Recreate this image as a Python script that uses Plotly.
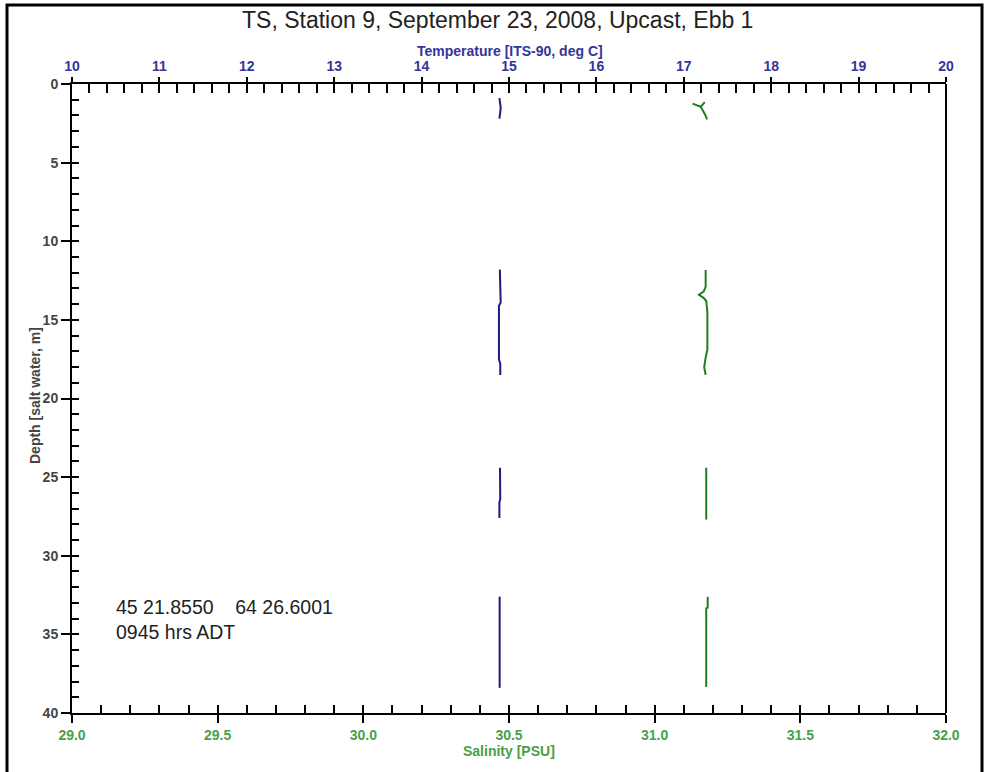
import plotly.graph_objects as go

# ---------------- data ----------------
title_text = "TS, Station 9, September 23, 2008, Upcast, Ebb 1"
note_text = "45 21.8550    64 26.6001<br>0945 hrs ADT"
temp_title = "Temperature [ITS-90, deg C]"
sal_title = "Salinity [PSU]"
depth_title = "Depth [salt water, m]"

# Temperature profile (segments separated by gaps)
temp_depth_1 = [0.9, 1.2, 1.5, 1.8, 2.2]
temp_vals_1 = [14.89, 14.90, 14.905, 14.90, 14.89]
temp_depth_2 = [11.8, 12.9, 13.1, 13.9, 14.1, 17.5, 17.8, 18.5]
temp_vals_2 = [14.895, 14.90, 14.905, 14.905, 14.885, 14.885, 14.90, 14.90]
temp_depth_3 = [24.4, 26.4, 26.6, 27.6]
temp_vals_3 = [14.897, 14.90, 14.89, 14.89]
temp_depth_4 = [32.6, 35.5, 38.4]
temp_vals_4 = [14.893, 14.893, 14.893]

# Salinity profile
sal_depth_1 = [1.15, 1.45, 1.25, 1.45, 1.9, 2.25]
sal_vals_1 = [31.172, 31.158, 31.130, 31.158, 31.172, 31.180]
sal_depth_2 = [11.83, 12.9, 13.2, 13.4, 13.6, 13.8, 14.5, 16.9, 17.4, 18.0, 18.2, 18.5]
sal_vals_2 = [31.175, 31.175, 31.168, 31.152, 31.168, 31.177, 31.181, 31.181,
              31.175, 31.170, 31.172, 31.175]
sal_depth_3 = [24.4, 27.7]
sal_vals_3 = [31.177, 31.177]
sal_depth_4 = [32.6, 33.3, 33.35, 38.35]
sal_vals_4 = [31.182, 31.182, 31.177, 31.177]

temp_range = [10, 20]
sal_range = [29.0, 32.0]
depth_range = [40, 0]


def join(depth_segs, val_segs):
    d, v = [], []
    for ds, vs in zip(depth_segs, val_segs):
        if d:
            d.append(None)
            v.append(None)
        d.extend(ds)
        v.extend(vs)
    return d, v


t_d, t_v = join([temp_depth_1, temp_depth_2, temp_depth_3, temp_depth_4],
                [temp_vals_1, temp_vals_2, temp_vals_3, temp_vals_4])
s_d, s_v = join([sal_depth_1, sal_depth_2, sal_depth_3, sal_depth_4],
                [sal_vals_1, sal_vals_2, sal_vals_3, sal_vals_4])

# ---------------- styling ----------------
FONT = "Arial, Liberation Sans, sans-serif"
NAVY = "#1c1c80"
GREEN = "#1f7f1f"
NAVY_TXT = "#34349a"
GREEN_TXT = "#48a048"
GRAY_TXT = "#444444"

W, H = 987, 772
L, R, T, B = 72, 946, 84, 713

fig = go.Figure()
fig.add_trace(go.Scatter(x=s_v, y=s_d, mode="lines", xaxis="x", yaxis="y",
                         line=dict(color=GREEN, width=2), showlegend=False,
                         connectgaps=False))
fig.add_trace(go.Scatter(x=t_v, y=t_d, mode="lines", xaxis="x2", yaxis="y",
                         line=dict(color=NAVY, width=2), showlegend=False,
                         connectgaps=False))
# dummy traces for tick-overlay axes
for xa, ya in [("x3", "y"), ("x4", "y"), ("x", "y2")]:
    fig.add_trace(go.Scatter(x=[None], y=[None], xaxis=xa, yaxis=ya,
                             showlegend=False, hoverinfo="skip"))

common = dict(showgrid=False, zeroline=False, tickcolor="black", tickwidth=2,
              automargin=False)
line = dict(linecolor="black", linewidth=2, showline=True)

fig.update_layout(
    width=W, height=H,
    margin=dict(l=L, r=W - R, t=T, b=H - B, autoexpand=False),
    paper_bgcolor="white", plot_bgcolor="white",
    font=dict(family=FONT, size=13, color=GRAY_TXT),
    xaxis=dict(range=sal_range, side="bottom", anchor="y", tickmode="linear",
               tick0=29.0, dtick=0.5, tickformat=".1f", ticks="outside", ticklen=8,
               tickfont=dict(color=GREEN_TXT, size=14, family=FONT, weight="bold"),
               **common, **line),
    xaxis2=dict(range=temp_range, side="top", anchor="y", overlaying="x",
                tickmode="linear", tick0=10, dtick=1, ticks="outside", ticklen=5,
                tickfont=dict(color=NAVY_TXT, size=14, family=FONT, weight="bold"),
                **common, **line),
    xaxis3=dict(range=sal_range, side="bottom", anchor="y", overlaying="x",
                tickmode="linear", tick0=29.0, dtick=0.1, ticks="inside", ticklen=8,
                showticklabels=False, showline=False, **common),
    xaxis4=dict(range=temp_range, side="top", anchor="y", overlaying="x",
                tickmode="linear", tick0=10, dtick=0.2, ticks="inside", ticklen=9,
                showticklabels=False, showline=False, **common),
    yaxis=dict(range=depth_range, side="left", anchor="x", tickmode="linear",
               tick0=0, dtick=5, ticks="outside", ticklen=9,
               tickfont=dict(color=GRAY_TXT, size=14, family=FONT, weight="bold"),
               **common, **line),
    yaxis2=dict(range=depth_range, side="left", anchor="x", overlaying="y",
                tickmode="linear", tick0=0, dtick=1, ticks="inside", ticklen=7,
                showticklabels=False, showline=False, **common),
)

# right border of plot area
fig.add_shape(type="line", xref="paper", yref="paper", x0=1, x1=1, y0=0, y1=1,
              line=dict(color="black", width=2))


def px_x(p):
    return (p - L) / (R - L)


def px_y(p):
    return (B - p) / (B - T)


# outer frame (bottom edge lies outside the picture)
fig.add_shape(type="rect", xref="paper", yref="paper",
              x0=px_x(7), x1=px_x(982), y0=px_y(780), y1=px_y(5),
              line=dict(color="black", width=3), fillcolor="rgba(0,0,0,0)")

# title
fig.add_annotation(text=title_text, xref="paper", yref="paper",
                   x=px_x(497), y=px_y(20), xanchor="center", yanchor="middle",
                   showarrow=False, font=dict(family=FONT, size=23, color="#222"))

# axis titles
fig.add_annotation(text=temp_title, xref="paper", yref="paper",
                   x=px_x(510), y=px_y(51), xanchor="center", yanchor="middle",
                   showarrow=False,
                   font=dict(family=FONT, size=14, color=NAVY_TXT, weight="bold"))
fig.add_annotation(text=sal_title, xref="paper", yref="paper",
                   x=px_x(509), y=px_y(751), xanchor="center", yanchor="middle",
                   showarrow=False,
                   font=dict(family=FONT, size=14, color=GREEN_TXT, weight="bold"))
fig.add_annotation(text=depth_title, xref="paper", yref="paper",
                   x=px_x(35), y=px_y(396), xanchor="center", yanchor="middle",
                   textangle=-90, showarrow=False,
                   font=dict(family=FONT, size=14, color=GRAY_TXT, weight="bold"))

# station note
fig.add_annotation(text=note_text, xref="paper", yref="paper",
                   x=px_x(114), y=px_y(594), xanchor="left", yanchor="top",
                   align="left", showarrow=False,
                   font=dict(family=FONT, size=19.5, color="#222"))

fig.write_html("out.html", config={"displayModeBar": False},
               post_script="document.body.style.margin='0';")
